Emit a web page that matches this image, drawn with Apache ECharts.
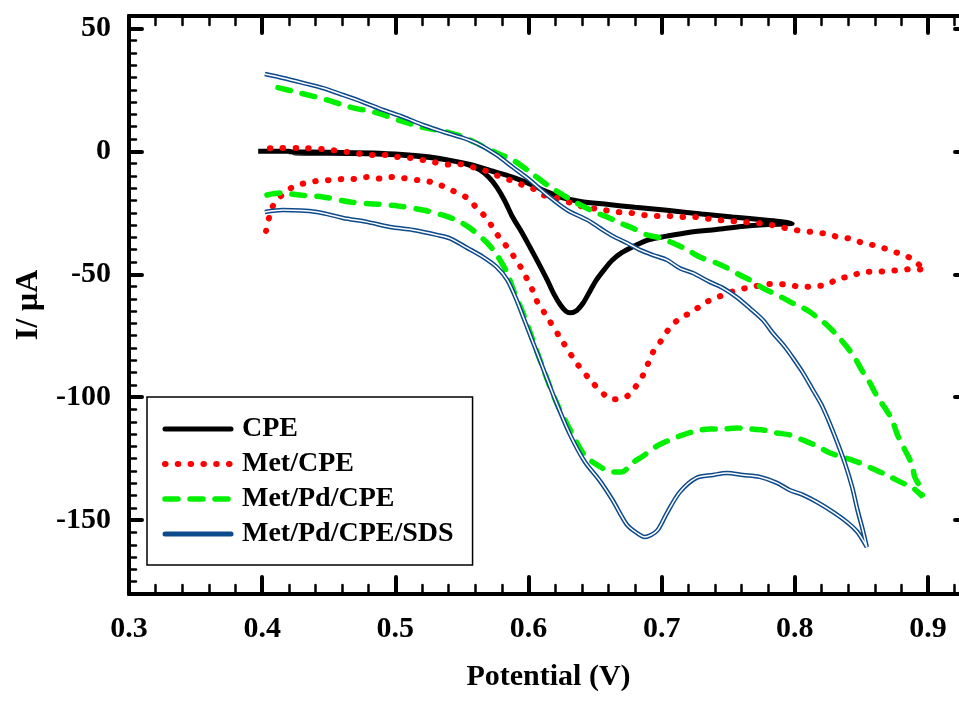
<!DOCTYPE html>
<html style="height: 100%">
<head>
  <meta charset="utf-8">
</head>
<body style="height: 100%; margin: 0; background: #fff">
  <div id="container" style="width: 959px; height: 705px"></div>
  <script type="text/javascript" src="https://cdn.jsdelivr.net/npm/echarts@6/dist/echarts.min.js"></script>
  <script type="text/javascript">
    // [potential V, current uA]
    var cpe = [
      [0.397, 0], [0.42, 0], [0.425, -0.7], [0.45, -0.8], [0.48, -1.0], [0.50, -1.4], [0.52, -2.2], [0.54, -3.6],
      [0.555, -5.5], [0.5635, -7.6], [0.57, -10.5], [0.576, -14.5], [0.582, -20], [0.588, -26.7], [0.595, -33],
      [0.601, -38.9], [0.608, -46], [0.614, -52.3], [0.619, -58], [0.624, -62.5], [0.628, -65], [0.631, -65.7],
      [0.636, -64.8], [0.641, -61.7], [0.646, -57], [0.651, -52.3], [0.657, -48], [0.663, -44.2], [0.670, -41.2],
      [0.678, -38.9], [0.690, -36], [0.704, -34.5], [0.720, -33], [0.741, -31.8], [0.760, -30.6], [0.780, -29.8],
      [0.798, -29.3],
      [0.790, -28.6], [0.779, -28], [0.753, -26.7], [0.730, -25.5], [0.704, -24], [0.680, -22.8], [0.660, -21.6],
      [0.639, -20.4], [0.625, -18.8], [0.614, -16.5], [0.604, -14], [0.594, -11.7], [0.585, -10], [0.576, -8.6],
      [0.556, -5.4], [0.526, -2.3], [0.488, -0.8], [0.45, -0.4], [0.42, -0.2]
    ];
    var metCpe = [
      [0.4029, -32.4], [0.4051, -27.1], [0.4081, -22.2], [0.4149, -17.8], [0.4231, -14.5], [0.4321, -13],
      [0.4419, -12], [0.4509, -11.7], [0.4607, -11.3], [0.4697, -11.3], [0.4787, -10.5], [0.4884, -11.1],
      [0.4974, -10.5], [0.5057, -10.9], [0.5162, -11.7], [0.5245, -12.2], [0.5335, -13.7], [0.543, -16],
      [0.554, -19], [0.561, -23], [0.569, -27.5], [0.575, -32.8], [0.581, -36.9], [0.588, -42], [0.594, -47],
      [0.603, -56.4], [0.607, -61.7], [0.612, -65.7], [0.624, -76], [0.636, -86], [0.648, -94], [0.657, -99],
      [0.663, -100.8], [0.672, -100.3], [0.680, -96], [0.686, -91], [0.690, -86], [0.6935, -81.6], [0.700, -76.7],
      [0.706, -71.8], [0.714, -67.8], [0.723, -65.3], [0.732, -61.7], [0.741, -59.6], [0.750, -57.6], [0.760, -56],
      [0.768, -55.2], [0.779, -54], [0.787, -54], [0.796, -54.3], [0.805, -55.2], [0.815, -54.8], [0.824, -54.3],
      [0.832, -51.9], [0.843, -50.7], [0.851, -49], [0.8616, -49], [0.870, -48.7], [0.880, -48.3], [0.889, -47.8],
      [0.8976, -48.3],
      [0.888, -43.8], [0.879, -41.7], [0.870, -40], [0.8616, -38.5], [0.851, -37.3], [0.843, -35.7], [0.832, -34.8],
      [0.824, -33.6], [0.8135, -32.8], [0.805, -32.4], [0.796, -31.6], [0.786, -30.4], [0.7776, -29.5],
      [0.7685, -29.1], [0.760, -28.7], [0.750, -28.3], [0.741, -27.9], [0.731, -27.1], [0.723, -26.7],
      [0.714, -26.7], [0.704, -26.3], [0.695, -26.3], [0.686, -25.9], [0.676, -25], [0.667, -24.7], [0.657, -23.9],
      [0.6386, -22.2], [0.621, -19], [0.611, -17.8], [0.6025, -14.9], [0.5935, -13.3], [0.584, -11.3],
      [0.575, -9.6], [0.566, -7.6], [0.5575, -6.4], [0.547, -5.2], [0.5387, -5.4], [0.528, -4.3], [0.520, -3.5],
      [0.511, -2.7], [0.5012, -2.3], [0.4937, -1.5], [0.4832, -1.5], [0.4637, -0.3], [0.4456, 0.9],
      [0.4284, 1.3], [0.4096, 1.3], [0.3998, 0.9]
    ];
    var metPdCpe = [
      [0.4036, -17.8], [0.4134, -17], [0.4284, -17.8], [0.4456, -18.6], [0.466, -20.6], [0.4832, -21.4],
      [0.5012, -22.2], [0.5207, -23.9], [0.5387, -26.5], [0.5485, -28.7], [0.558, -32], [0.569, -37.3],
      [0.576, -42], [0.584, -49.5], [0.5886, -56.4], [0.594, -63.3], [0.597, -67.4], [0.6086, -84.8], [0.620, -101],
      [0.631, -113], [0.642, -123.5], [0.6536, -128.2], [0.663, -130.4], [0.670, -130.4], [0.678, -126.7],
      [0.686, -123.9], [0.696, -120], [0.706, -117.4], [0.716, -115.3], [0.726, -113.7], [0.736, -112.9],
      [0.746, -112.9], [0.756, -112.5], [0.766, -112.9], [0.776, -113.3], [0.786, -114.5], [0.796, -115.3],
      [0.806, -117.4], [0.8165, -119.8], [0.826, -122.6], [0.836, -124.3], [0.849, -126.7], [0.8586, -129.1],
      [0.869, -131.6], [0.879, -134.4], [0.889, -137], [0.896, -140.5],
      [0.894, -136.5], [0.890, -132.4], [0.888, -127.5], [0.8826, -121.4], [0.877, -115.3], [0.873, -109.2],
      [0.8676, -104.3], [0.862, -99.9], [0.856, -93.8], [0.851, -89.7], [0.845, -84], [0.839, -79.5],
      [0.8315, -74.7], [0.824, -70.6], [0.8165, -67.4], [0.809, -64.5], [0.801, -62.5], [0.791, -59.6],
      [0.7835, -57.6], [0.776, -55.6], [0.766, -52.3], [0.7587, -50.3], [0.749, -47.4], [0.741, -45.4],
      [0.7287, -43], [0.719, -40], [0.7085, -37.3], [0.6986, -35.2], [0.689, -34], [0.678, -31.2], [0.6686, -29.1],
      [0.659, -26.7], [0.651, -25], [0.636, -21], [0.6236, -17], [0.614, -13.7], [0.601, -8.4], [0.588, -3.5],
      [0.576, -0.7], [0.5635, 2.6], [0.551, 5.8], [0.539, 7.8], [0.5207, 9.7], [0.5035, 12.5], [0.4862, 15.6],
      [0.466, 18], [0.4486, 20.9], [0.4284, 23.7], [0.4134, 25.7], [0.4036, 27]
    ];
    var metPdCpeSds = [
      [0.402, -24.7], [0.4156, -23.9], [0.4411, -24.7], [0.4607, -27.1], [0.4787, -28.7], [0.496, -30.8],
      [0.5132, -32], [0.5312, -34], [0.541, -35.4], [0.554, -39.3], [0.566, -43], [0.576, -47], [0.584, -52.3],
      [0.591, -60.4], [0.596, -67.4], [0.6086, -85], [0.620, -101], [0.631, -115], [0.642, -126], [0.6536, -134],
      [0.663, -141.7], [0.674, -151.9], [0.6814, -155.2], [0.687, -156.8], [0.692, -156], [0.697, -154],
      [0.704, -147], [0.7137, -138.5], [0.726, -132.8], [0.7385, -131.6], [0.749, -130.8], [0.761, -131.6],
      [0.7737, -132.4], [0.7865, -134.8], [0.796, -137.7], [0.806, -139.7], [0.8165, -142.6], [0.8285, -146.6],
      [0.839, -150.7], [0.847, -154.8], [0.854, -160.9],
      [0.851, -154], [0.847, -145.8], [0.843, -136.5], [0.8375, -126.7], [0.832, -118.6], [0.826, -110.4],
      [0.820, -103.1], [0.8135, -97], [0.806, -90], [0.7985, -84], [0.7925, -79.5], [0.7835, -73.9],
      [0.776, -68.6], [0.766, -63.7], [0.756, -59.2], [0.746, -55.6], [0.736, -53.1], [0.7234, -49.5],
      [0.7137, -47.6], [0.704, -44.2], [0.6935, -42.2], [0.6836, -40.1], [0.674, -37.3], [0.6634, -34.5],
      [0.6536, -31.2], [0.644, -27.9], [0.629, -23.9], [0.614, -17.8], [0.601, -11.7], [0.588, -6.4],
      [0.576, -1.5], [0.5635, 2.6], [0.551, 5.4], [0.5387, 7.4], [0.5207, 10.7], [0.5057, 14], [0.4907, 16.8],
      [0.4757, 20], [0.4607, 22.9], [0.4456, 25.7], [0.4306, 27.8], [0.4156, 29.8], [0.402, 31.4]
    ];
    var yMajorTicks = [-150, -100, -50, 0, 50];
    var legendNames = ['CPE', 'Met/CPE', 'Met/Pd/CPE', 'Met/Pd/CPE/SDS'];

    var font = "'Liberation Serif', 'Times New Roman', serif";
    var blk = '#000';
    var red = '#ff0000', green = '#00f000', blue = '#0d4a8c';
    var redDash = [0.5, 12.3], greenDash = [13, 12];

    function xAx(pos, step, len, w, labels) {
      return {
        type: 'value', position: pos, min: 0.3, max: 0.93, interval: step,
        axisLine: { show: labels, onZero: false, lineStyle: { color: blk, width: 4 } },
        axisTick: { show: true, inside: true, length: len, lineStyle: { color: blk, width: w, cap: 'round' } },
        axisLabel: labels ? {
          show: true, margin: 20, color: blk, fontSize: 30, fontWeight: 'bold', fontFamily: font,
          showMaxLabel: false,
          formatter: function (v) { return v.toFixed(1); }
        } : { show: false },
        splitLine: { show: false }
      };
    }
    function yAx(pos, major, len, w, labels) {
      var a = {
        type: 'value', position: pos, min: -180, max: 55,
        axisLine: { show: major, onZero: false, lineStyle: { color: blk, width: 4 } },
        axisTick: { show: true, inside: true, length: len, lineStyle: { color: blk, width: w, cap: 'round' } },
        axisLabel: { show: false },
        splitLine: { show: false }
      };
      if (major) {
        a.axisTick.customValues = yMajorTicks;
        a.axisLabel = labels ? {
          show: true, margin: 18, color: blk, fontSize: 30, fontWeight: 'bold', fontFamily: font,
          customValues: yMajorTicks
        } : { show: false, customValues: yMajorTicks };
      } else {
        a.interval = 5;
      }
      return a;
    }

    var dom = document.getElementById('container');
    var myChart = echarts.init(dom);

    var xMain = xAx('bottom', 0.1, 17, 4, true);
    xMain.name = 'Potential (V)';
    xMain.nameLocation = 'middle';
    xMain.nameGap = 68;
    xMain.nameTextStyle = { color: blk, fontSize: 30, fontWeight: 'bold', fontFamily: font };
    var xTop = xAx('top', 0.1, 17, 4, false);
    xTop.axisLine.show = true;

    var yMain = yAx('left', true, 13, 4, true);
    yMain.name = 'I/ \u03bcA';
    yMain.nameLocation = 'middle';
    yMain.nameGap = 82;
    yMain.nameTextStyle = { color: blk, fontSize: 32, fontWeight: 'bold', fontFamily: font };

    var option = {
      animation: false,
      backgroundColor: '#fff',
      grid: { left: 129, top: 16, width: 839, height: 578, containLabel: false, outerBoundsMode: 'none' },
      xAxis: [xMain, xAx('bottom', 0.02, 9, 2.5, false), xTop, xAx('top', 0.02, 9, 2.5, false)],
      yAxis: [yMain, yAx('left', false, 7, 2.5, false), yAx('right', true, 13, 4, false), yAx('right', false, 7, 2.5, false)],
      legend: {
        data: [
          { name: legendNames[0], lineStyle: { color: blk, width: 5, type: 'solid', cap: 'round' } },
          { name: legendNames[1], lineStyle: { color: red, width: 6, type: redDash, cap: 'round' } },
          { name: legendNames[2], lineStyle: { color: green, width: 5.5, type: greenDash, cap: 'round' } },
          { name: legendNames[3], lineStyle: { color: blue, width: 5, type: 'solid', cap: 'round' } }
        ],
        orient: 'vertical',
        left: 147, top: 397,
        padding: [18, 19, 17, 15],
        itemWidth: 66, itemHeight: 14, itemGap: 7,
        itemStyle: { opacity: 0 },
        borderColor: blk, borderWidth: 1.5,
        backgroundColor: '#fff',
        textStyle: { color: blk, fontSize: 28, fontWeight: 'bold', fontFamily: font, lineHeight: 28, padding: [0, 0, 0, 6] }
      },
      series: [
        {
          name: 'CPE', type: 'line', data: cpe, symbol: 'none', smooth: 0.3,
          lineStyle: { color: blk, width: 5 }, itemStyle: { color: blk }
        },
        {
          name: 'Met/CPE', type: 'line', data: metCpe, symbol: 'none', smooth: 0.3,
          lineStyle: { color: red, width: 6, type: redDash, cap: 'round' }, itemStyle: { color: red }
        },
        {
          name: 'Met/Pd/CPE', type: 'line', data: metPdCpe, symbol: 'none', smooth: 0.3,
          lineStyle: { color: green, width: 5.5, type: greenDash, cap: 'round' }, itemStyle: { color: green }
        },
        {
          name: 'Met/Pd/CPE/SDS', type: 'line', data: metPdCpeSds, symbol: 'none', smooth: 0.3,
          lineStyle: { color: blue, width: 4.5 }, itemStyle: { color: blue }
        },
        {
          name: 'sds-core', type: 'line', data: metPdCpeSds, symbol: 'none', smooth: 0.3, silent: true,
          lineStyle: { color: '#ffffff', width: 1.5 }, itemStyle: { color: '#ffffff' }
        }
      ]
    };

    myChart.setOption(option);
  </script>
</body>
</html>
